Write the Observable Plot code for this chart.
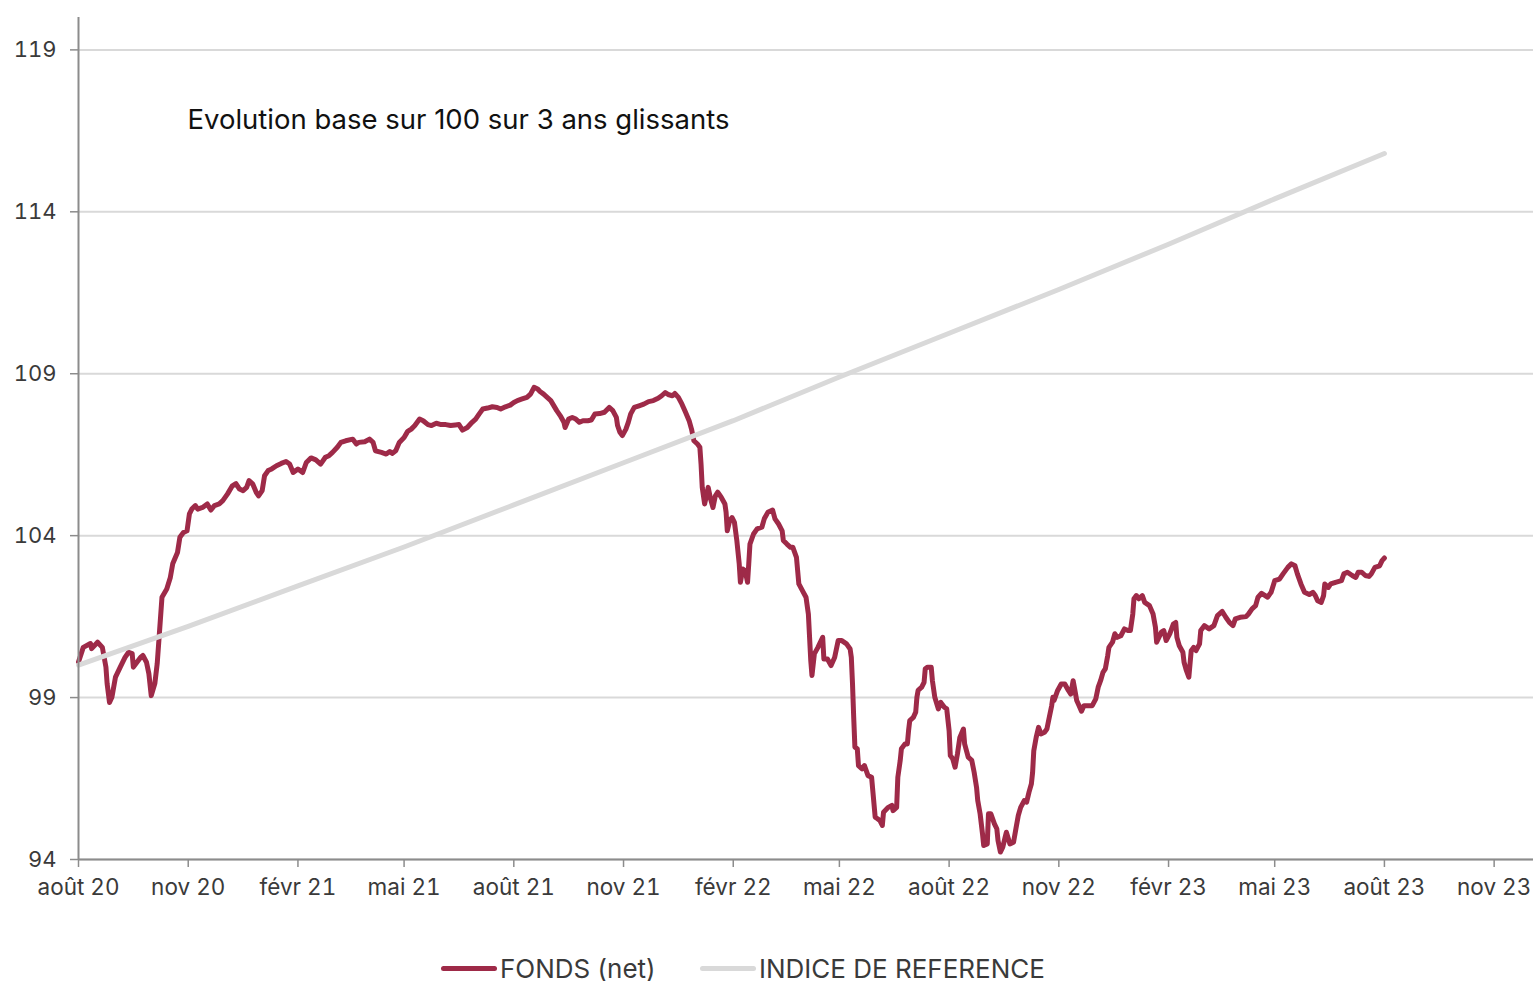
<!DOCTYPE html>
<html><head><meta charset="utf-8">
<script src="https://cdn.jsdelivr.net/npm/d3@7"></script>
<script src="https://cdn.jsdelivr.net/npm/@observablehq/plot@0.6"></script>
<style>
body{margin:0;background:#fff;font-family:Inter,"Open Sans",sans-serif;}
#chart{width:1533px;}
.legend{position:relative;width:1533px;height:56px;font-size:26px;color:#3a3a3a;}
.item{position:absolute;top:0;height:56px;display:flex;align-items:center;white-space:nowrap;}
.sw{width:56px;height:5px;border-radius:3px;margin-right:3px;}
</style></head><body>
<div id="chart"></div>
<div class="legend" id="legend"></div>
<script>
const title = "Evolution base sur 100 sur 3 ans glissants";
const seriesNames = ["FONDS (net)", "INDICE DE REFERENCE"];
const seriesColors = ["#9e2a48", "#d9d9d9"];
const monthNames = ["janv","févr","mars","avr","mai","juin","juil","août","sept","oct","nov","déc"];
const xTickDates = ["2020-08-01","2020-11-01","2021-02-01","2021-05-01","2021-08-01","2021-11-01","2022-02-01","2022-05-01","2022-08-01","2022-11-01","2023-02-01","2023-05-01","2023-08-01","2023-11-01"];
const yTicks = [94, 99, 104, 109, 114, 119];
const xDomain = ["2020-08-01", "2023-12-04"];
const yDomain = [94, 120];

const refDates = ["2020-08-01","2020-11-01","2021-02-01","2021-05-01","2021-08-01","2021-11-01","2022-02-01","2022-05-01","2022-08-01","2022-11-01","2023-02-01","2023-05-01","2023-08-01"];
const refValues = [100.0,101.2,102.45,103.65,104.95,106.25,107.55,108.9,110.25,111.6,113.0,114.4,115.8];

const fundDates = ["2020-08-01","2020-08-05","2020-08-11","2020-08-12","2020-08-17","2020-08-21","2020-08-24","2020-08-25","2020-08-27","2020-08-29","2020-09-01","2020-09-05","2020-09-09","2020-09-12","2020-09-15","2020-09-16","2020-09-19","2020-09-22","2020-09-24","2020-09-27","2020-09-29","2020-10-01","2020-10-04","2020-10-06","2020-10-08","2020-10-10","2020-10-14","2020-10-17","2020-10-19","2020-10-23","2020-10-25","2020-10-28","2020-10-31","2020-11-02","2020-11-04","2020-11-07","2020-11-09","2020-11-13","2020-11-17","2020-11-20","2020-11-23","2020-11-27","2020-11-30","2020-12-04","2020-12-08","2020-12-11","2020-12-14","2020-12-17","2020-12-20","2020-12-22","2020-12-25","2020-12-28","2020-12-30","2021-01-02","2021-01-04","2021-01-07","2021-01-10","2021-01-14","2021-01-18","2021-01-22","2021-01-25","2021-01-28","2021-02-01","2021-02-05","2021-02-08","2021-02-12","2021-02-16","2021-02-20","2021-02-24","2021-02-27","2021-03-02","2021-03-06","2021-03-09","2021-03-13","2021-03-19","2021-03-22","2021-03-24","2021-03-29","2021-04-02","2021-04-05","2021-04-07","2021-04-12","2021-04-16","2021-04-19","2021-04-21","2021-04-24","2021-04-27","2021-05-01","2021-05-04","2021-05-07","2021-05-10","2021-05-14","2021-05-17","2021-05-21","2021-05-24","2021-05-28","2021-06-01","2021-06-05","2021-06-09","2021-06-13","2021-06-16","2021-06-19","2021-06-23","2021-06-27","2021-06-30","2021-07-03","2021-07-06","2021-07-10","2021-07-14","2021-07-18","2021-07-21","2021-07-25","2021-07-29","2021-08-01","2021-08-04","2021-08-08","2021-08-12","2021-08-15","2021-08-18","2021-08-21","2021-08-23","2021-08-26","2021-08-29","2021-09-01","2021-09-06","2021-09-09","2021-09-12","2021-09-13","2021-09-16","2021-09-19","2021-09-22","2021-09-25","2021-09-28","2021-10-02","2021-10-05","2021-10-08","2021-10-12","2021-10-16","2021-10-20","2021-10-23","2021-10-26","2021-10-27","2021-10-29","2021-10-31","2021-11-03","2021-11-05","2021-11-07","2021-11-10","2021-11-14","2021-11-18","2021-11-22","2021-11-26","2021-11-30","2021-12-03","2021-12-06","2021-12-09","2021-12-12","2021-12-14","2021-12-17","2021-12-20","2021-12-23","2021-12-26","2021-12-28","2021-12-30","2022-01-02","2022-01-04","2022-01-05","2022-01-06","2022-01-08","2022-01-11","2022-01-13","2022-01-15","2022-01-17","2022-01-19","2022-01-22","2022-01-25","2022-01-26","2022-01-27","2022-01-29","2022-01-31","2022-02-02","2022-02-04","2022-02-06","2022-02-07","2022-02-09","2022-02-11","2022-02-13","2022-02-14","2022-02-15","2022-02-18","2022-02-21","2022-02-25","2022-02-27","2022-03-02","2022-03-06","2022-03-08","2022-03-11","2022-03-14","2022-03-15","2022-03-18","2022-03-21","2022-03-23","2022-03-26","2022-03-27","2022-03-28","2022-03-31","2022-04-03","2022-04-05","2022-04-06","2022-04-07","2022-04-08","2022-04-10","2022-04-13","2022-04-17","2022-04-18","2022-04-21","2022-04-24","2022-04-27","2022-04-30","2022-05-03","2022-05-07","2022-05-10","2022-05-11","2022-05-12","2022-05-13","2022-05-14","2022-05-16","2022-05-17","2022-05-20","2022-05-22","2022-05-25","2022-05-28","2022-05-29","2022-05-31","2022-06-02","2022-06-04","2022-06-06","2022-06-07","2022-06-11","2022-06-14","2022-06-15","2022-06-18","2022-06-19","2022-06-21","2022-06-22","2022-06-25","2022-06-27","2022-06-28","2022-06-29","2022-07-02","2022-07-04","2022-07-05","2022-07-06","2022-07-09","2022-07-11","2022-07-12","2022-07-14","2022-07-17","2022-07-18","2022-07-20","2022-07-23","2022-07-25","2022-07-28","2022-07-30","2022-08-01","2022-08-02","2022-08-04","2022-08-06","2022-08-08","2022-08-10","2022-08-13","2022-08-14","2022-08-17","2022-08-20","2022-08-22","2022-08-24","2022-08-25","2022-08-27","2022-08-29","2022-08-30","2022-09-02","2022-09-03","2022-09-05","2022-09-08","2022-09-10","2022-09-11","2022-09-13","2022-09-15","2022-09-17","2022-09-18","2022-09-21","2022-09-24","2022-09-26","2022-09-28","2022-09-30","2022-10-03","2022-10-05","2022-10-07","2022-10-09","2022-10-10","2022-10-11","2022-10-13","2022-10-15","2022-10-17","2022-10-20","2022-10-22","2022-10-24","2022-10-26","2022-10-27","2022-10-28","2022-10-31","2022-11-03","2022-11-06","2022-11-09","2022-11-11","2022-11-13","2022-11-14","2022-11-16","2022-11-18","2022-11-20","2022-11-22","2022-11-26","2022-11-29","2022-12-02","2022-12-04","2022-12-06","2022-12-08","2022-12-10","2022-12-12","2022-12-13","2022-12-16","2022-12-18","2022-12-20","2022-12-23","2022-12-26","2022-12-29","2022-12-31","2023-01-02","2023-01-03","2023-01-05","2023-01-07","2023-01-10","2023-01-12","2023-01-16","2023-01-19","2023-01-21","2023-01-22","2023-01-26","2023-01-28","2023-01-30","2023-02-02","2023-02-05","2023-02-07","2023-02-08","2023-02-10","2023-02-13","2023-02-14","2023-02-16","2023-02-18","2023-02-20","2023-02-22","2023-02-24","2023-02-27","2023-02-28","2023-03-03","2023-03-07","2023-03-11","2023-03-14","2023-03-18","2023-03-21","2023-03-24","2023-03-27","2023-03-29","2023-04-02","2023-04-07","2023-04-09","2023-04-12","2023-04-15","2023-04-17","2023-04-20","2023-04-23","2023-04-25","2023-04-28","2023-05-01","2023-05-05","2023-05-08","2023-05-12","2023-05-15","2023-05-18","2023-05-20","2023-05-23","2023-05-26","2023-05-30","2023-06-02","2023-06-04","2023-06-06","2023-06-09","2023-06-11","2023-06-12","2023-06-15","2023-06-17","2023-06-21","2023-06-26","2023-06-28","2023-07-01","2023-07-05","2023-07-08","2023-07-10","2023-07-13","2023-07-16","2023-07-19","2023-07-21","2023-07-24","2023-07-28","2023-07-30","2023-08-01"];
const fundValues = [100.1,100.55,100.67,100.51,100.71,100.55,99.94,99.43,98.85,99.01,99.63,99.94,100.24,100.40,100.36,99.94,100.09,100.24,100.30,100.09,99.74,99.06,99.43,100.05,101.07,102.10,102.35,102.71,103.13,103.48,103.95,104.10,104.15,104.67,104.82,104.93,104.82,104.87,104.98,104.79,104.93,104.98,105.08,105.29,105.54,105.61,105.44,105.39,105.49,105.70,105.60,105.34,105.23,105.39,105.85,106.01,106.06,106.16,106.23,106.29,106.21,105.95,106.06,105.95,106.26,106.40,106.34,106.21,106.42,106.47,106.57,106.73,106.88,106.93,106.98,106.83,106.88,106.90,106.98,106.88,106.62,106.57,106.52,106.60,106.54,106.62,106.88,107.03,107.22,107.29,107.40,107.60,107.55,107.43,107.40,107.47,107.43,107.43,107.40,107.42,107.43,107.26,107.34,107.50,107.60,107.76,107.91,107.94,107.98,107.96,107.91,107.98,108.03,108.11,108.17,108.22,108.27,108.37,108.58,108.53,108.45,108.37,108.27,108.17,107.86,107.70,107.50,107.34,107.60,107.65,107.60,107.50,107.55,107.55,107.57,107.76,107.77,107.81,107.96,107.86,107.65,107.40,107.19,107.09,107.29,107.50,107.76,107.96,108.01,108.06,108.14,108.17,108.24,108.32,108.42,108.35,108.32,108.39,108.27,108.06,107.81,107.55,107.29,106.93,106.83,106.73,106.21,105.49,104.98,105.49,105.13,104.87,105.23,105.34,105.18,104.98,104.72,104.15,104.46,104.56,104.41,103.85,103.13,102.56,102.97,102.92,102.56,103.13,103.74,104.05,104.21,104.26,104.52,104.72,104.79,104.52,104.36,104.15,103.85,103.74,103.64,103.64,103.33,102.92,102.51,102.30,102.10,101.58,100.86,100.14,99.68,100.35,100.55,100.86,100.19,100.19,99.99,100.24,100.76,100.76,100.66,100.50,100.24,99.42,98.39,97.47,97.42,96.90,96.80,96.90,96.59,96.54,96.13,95.31,95.26,95.20,95.05,95.46,95.61,95.67,95.51,95.61,96.54,97.06,97.42,97.57,97.57,97.98,98.29,98.39,98.55,99.01,99.22,99.32,99.47,99.89,99.94,99.94,99.52,99.01,98.65,98.85,98.70,98.65,97.98,97.21,97.11,96.85,97.26,97.77,98.03,97.57,97.16,97.06,96.69,96.23,95.82,95.41,94.79,94.43,94.48,95.41,95.41,95.10,94.95,94.59,94.23,94.38,94.69,94.84,94.48,94.53,94.95,95.36,95.61,95.82,95.77,96.08,96.34,96.69,97.36,97.77,98.08,97.88,97.93,98.03,98.39,98.75,99.01,98.91,99.22,99.42,99.42,99.22,99.11,99.52,99.32,98.91,98.75,98.58,98.75,98.75,98.75,98.96,99.32,99.52,99.78,99.89,100.30,100.55,100.71,100.97,100.86,100.91,101.12,101.07,101.07,101.58,102.05,102.15,102.05,102.15,101.94,101.84,101.58,101.17,100.71,101.02,101.07,100.76,100.97,101.27,101.32,100.86,100.60,100.40,100.09,99.83,99.63,100.45,100.55,100.45,100.66,101.07,101.22,101.12,101.22,101.53,101.66,101.48,101.32,101.22,101.43,101.48,101.50,101.58,101.74,101.84,102.10,102.22,102.15,102.10,102.25,102.61,102.66,102.82,103.02,103.13,103.07,102.82,102.51,102.25,102.18,102.25,102.15,101.99,101.94,102.15,102.51,102.40,102.51,102.56,102.61,102.82,102.87,102.77,102.71,102.87,102.87,102.77,102.74,102.82,103.02,103.07,103.23,103.31];

const parse = s => new Date(s + "T00:00:00Z");
const fund = fundDates.map((d, i) => ({date: parse(d), value: fundValues[i]}));
const ref = refDates.map((d, i) => ({date: parse(d), value: refValues[i]}));
const xTicks = xTickDates.map(parse);
const xStart = parse(xDomain[0]);
const fmt = d => monthNames[d.getUTCMonth()] + " " + String(d.getUTCFullYear()).slice(2);

const chart = Plot.plot({
  width: 1533, height: 940,
  marginLeft: 78, marginRight: 0, marginTop: 17, marginBottom: 81,
  x: {type: "utc", domain: xDomain.map(parse)},
  y: {domain: yDomain},
  style: {fontFamily: "Inter, 'Open Sans', sans-serif", fontSize: "22px", color: "#3a3a3a", background: "#fff", overflow: "visible"},
  marks: [
    Plot.gridY(yTicks, {stroke: "#d9d9d9", strokeOpacity: 1, strokeWidth: 2}),
    Plot.line(fund, {x: "date", y: "value", stroke: seriesColors[0], strokeWidth: 5, strokeLinejoin: "round", strokeLinecap: "round"}),
    Plot.line(ref, {x: "date", y: "value", stroke: seriesColors[1], strokeWidth: 5, strokeLinecap: "round"}),
    Plot.ruleY([yDomain[0]], {stroke: "#8c8c8c", strokeWidth: 2}),
    Plot.ruleX([xStart], {stroke: "#8c8c8c", strokeWidth: 2}),
    Plot.axisX({ticks: xTicks, tickFormat: fmt, tickSize: 8, tickPadding: 12, stroke: "#8c8c8c", strokeWidth: 1.5, fontSize: 22.5, label: null}),
    Plot.axisY({ticks: yTicks, tickSize: 8, tickPadding: 14, stroke: "#8c8c8c", strokeWidth: 1.5, fontSize: 22, label: null}),
    Plot.text([title], {frameAnchor: "top-left", dx: 109, dy: 103, text: d => d, textAnchor: "start", lineAnchor: "middle", fontSize: 27.5, fill: "#111"})
  ]
});
document.getElementById("chart").append(chart);

const legend = document.getElementById("legend");
const legendLeft = [441, 700];
seriesNames.forEach((name, i) => {
  const it = document.createElement("div");
  it.className = "item";
  it.style.left = legendLeft[i] + "px";
  const sw = document.createElement("span");
  sw.className = "sw";
  sw.style.background = seriesColors[i];
  const tx = document.createElement("span");
  tx.textContent = name;
  it.append(sw, tx);
  legend.append(it);
});
</script>
</body></html>
